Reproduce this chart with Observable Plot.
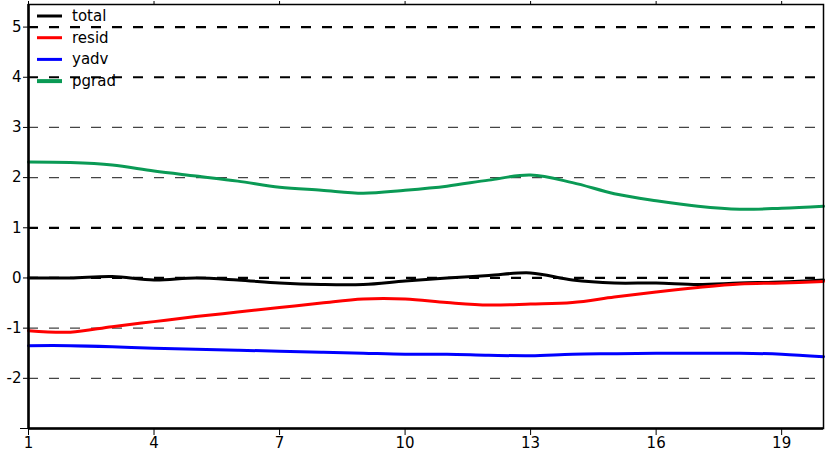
<!DOCTYPE html>
<html>
<head>
<meta charset="utf-8">
<script src="https://cdn.jsdelivr.net/npm/d3@7"></script>
<script src="https://cdn.jsdelivr.net/npm/@observablehq/plot@0.6"></script>
<style>
  body { margin: 0; background: #fff; }
  #wrap { position: relative; width: 825px; height: 455px; }
  #legend { position: absolute; left: 0; top: 0; }
</style>
</head>
<body>
<div id="wrap"></div>
<script>
const steps = [1,2,3,4,5,6,7,8,9,10,11,12,13,14,15,16,17,18,19,20];
const total = [0.0,0.0,0.03,-0.04,0.0,-0.04,-0.1,-0.13,-0.13,-0.06,0.0,0.05,0.1,-0.04,-0.1,-0.1,-0.13,-0.1,-0.08,-0.04];
const resid = [-1.05,-1.08,-0.97,-0.87,-0.77,-0.68,-0.59,-0.5,-0.42,-0.42,-0.49,-0.54,-0.52,-0.49,-0.38,-0.28,-0.19,-0.12,-0.1,-0.07];
const yadv  = [-1.35,-1.35,-1.37,-1.4,-1.42,-1.44,-1.46,-1.48,-1.5,-1.52,-1.52,-1.54,-1.55,-1.52,-1.51,-1.5,-1.5,-1.5,-1.52,-1.57];
const pgrad = [2.31,2.3,2.25,2.13,2.03,1.93,1.81,1.75,1.69,1.75,1.83,1.95,2.05,1.9,1.68,1.54,1.43,1.37,1.39,1.43];
const seriesNames = ["total","resid","yadv","pgrad"];
const seriesColors = ["#000000","#ff0000","#0000ff","#0a9a55"];
const xTicks = [1,4,7,10,13,16,19];
const yTicks = [-2,-1,0,1,2,3,4,5];
const gridBold = [5,4,1,0];
const gridThin = [3,2,-1,-2];

const seriesValues = [total, resid, yadv, pgrad];
const rows = [];
seriesNames.forEach((name, i) => steps.forEach((s, j) => rows.push({step: s, value: seriesValues[i][j], series: name})));

const chart = Plot.plot({
  width: 825,
  height: 455,
  marginLeft: 28,
  marginRight: 2,
  marginTop: 4,
  marginBottom: 27,
  style: {fontFamily: "DejaVu Sans", fontSize: "15px", color: "#000", background: "#fff"},
  x: {domain: [1, 20]},
  y: {domain: [-3, 5.45]},
  color: {domain: seriesNames, range: seriesColors},
  marks: [
    Plot.ruleY(gridThin, {stroke: "#444", strokeWidth: 1.3, strokeDasharray: "10,11"}),
    Plot.ruleY(gridBold, {stroke: "#000", strokeWidth: 2.2, strokeDasharray: "10,11"}),
    Plot.line(rows, {x: "step", y: "value", z: "series", stroke: "series", strokeWidth: 3, curve: "catmull-rom"}),
    Plot.frame({stroke: "#000", strokeWidth: 1.5}),
    Plot.ruleX([1], {stroke: "#000", strokeWidth: 2.5}),
    Plot.ruleY([-3], {stroke: "#000", strokeWidth: 2.5}),
    Plot.axisX(xTicks, {anchor: "bottom", tickSize: 7, tickPadding: 2, tickFormat: d => String(d), label: null, fontSize: 15}),
    Plot.axisX(xTicks, {anchor: "top", tickSize: 4, tickFormat: () => "", label: null}),
    Plot.axisY(yTicks, {anchor: "left", tickSize: 5, tickPadding: 2, tickFormat: d => String(d), label: null, fontSize: 15}),
    Plot.axisY([-3], {anchor: "left", tickSize: 8, tickFormat: () => "", label: null})
  ]
});
const wrap = document.getElementById("wrap");
wrap.appendChild(chart);

// legend overlay
const leg = d3.select(wrap).append("svg").attr("id", "legend").attr("width", 140).attr("height", 100);
seriesNames.forEach((name, i) => {
  const y = 16 + i * 21.7;
  leg.append("line").attr("x1", 37).attr("x2", 62).attr("y1", y).attr("y2", y)
    .attr("stroke", seriesColors[i]).attr("stroke-width", i === 3 ? 4 : 3);
  leg.append("text").attr("x", 72).attr("y", y).attr("dy", "0.32em")
    .attr("font-family", "DejaVu Sans").attr("font-size", 15).text(name);
});
</script>
</body>
</html>
